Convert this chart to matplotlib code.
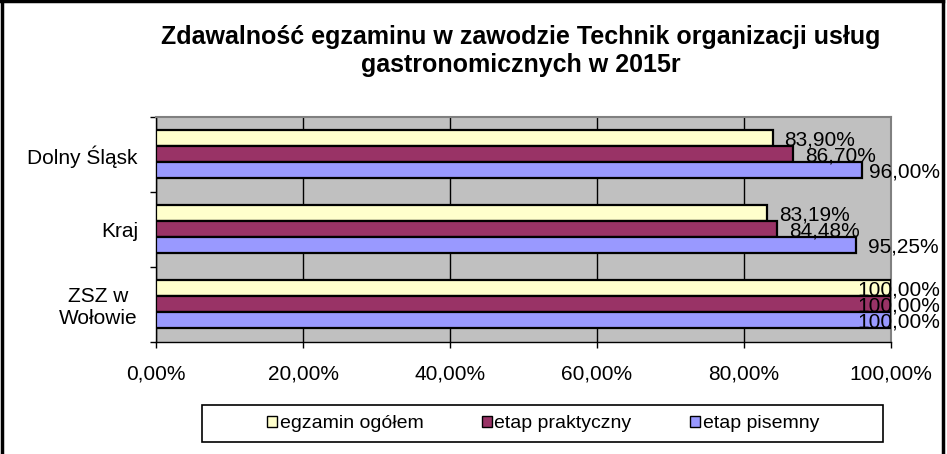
import matplotlib
matplotlib.use("Agg")
import matplotlib.pyplot as plt
from matplotlib.patches import Patch, Rectangle
from matplotlib.lines import Line2D
import numpy as np

plt.rcParams['font.family'] = ['Liberation Sans', 'DejaVu Sans']

# data
categories = ["Dolny Śląsk", "Kraj", "ZSZ w\nWołowie"]
series_names = ["egzamin ogółem", "etap praktyczny", "etap pisemny"]
egzamin_ogolem = [83.90, 83.19, 100.00]
etap_praktyczny = [86.70, 84.48, 100.00]
etap_pisemny = [96.00, 95.25, 100.00]
x_ticks = [0, 20, 40, 60, 80, 100]
x_tick_labels = ["0,00%", "20,00%", "40,00%", "60,00%", "80,00%", "100,00%"]
title = "Zdawalność egzaminu w zawodzie Technik organizacji usług\ngastronomicznych w 2015r"

colors = ["#FFFFCC", "#993366", "#9999FF"]
W, H = 947, 454

fig = plt.figure(figsize=(W / 100, H / 100), dpi=100)
fig.patch.set_facecolor("white")

# chart area border: left, top and right only
for xs, ys in [([1.5 / W, 1.5 / W], [0, 1]),
               ([0, 943 / W], [1 - 1 / H, 1 - 1 / H]),
               ([942.5 / W, 942.5 / W], [0, 1])]:
    fig.lines.append(Line2D(xs, ys, transform=fig.transFigure,
                            color="black", linewidth=2.5))

# plot area in pixels: x 156..891, y 117..342
ax = fig.add_axes([156 / W, 1 - 342 / H, 735 / W, 225 / H])
ax.set_facecolor("#C0C0C0")

n = len(categories)
ypos = np.arange(n)[::-1].astype(float)  # first category on top
bar_h = 0.215
offsets = [bar_h, 0.0, -bar_h]
all_series = [egzamin_ogolem, etap_praktyczny, etap_pisemny]

texts = []
for vals, off, col in zip(all_series, offsets, colors):
    ax.barh(ypos + off + 0.01, vals, height=bar_h, color=col,
            edgecolor="black", linewidth=1.6, zorder=3)
    for y, v in zip(ypos, vals):
        lbl = f"{v:.2f}%".replace(".", ",")
        t = ax.annotate(lbl, xy=(v, y + off + 0.01), xytext=(8.6, -1.5),
                        textcoords="offset points", va="center", ha="left",
                        fontsize=15, color="black", zorder=5,
                        annotation_clip=False)
        texts.append(t)

ax.set_xlim(0, 100)
ax.set_ylim(-0.5, n - 0.5)
ax.set_xticks(x_ticks)
ax.set_xticklabels(x_tick_labels, fontsize=15)
ax.set_yticks(ypos)
ax.set_yticklabels(categories, fontsize=15, multialignment="center")
ax.set_yticks(np.arange(-0.5, n, 1.0), minor=True)
ax.tick_params(axis="y", which="major", length=0, pad=13)
ax.tick_params(axis="y", which="minor", length=4, width=1, color="black")
ax.tick_params(axis="x", length=4, width=1, pad=12)
ax.xaxis.grid(True, color="black", linewidth=1)
ax.set_axisbelow(True)
for s in ["top", "right"]:
    ax.spines[s].set_color("#808080")
    ax.spines[s].set_linewidth(1.5)
for s in ["left", "bottom"]:
    ax.spines[s].set_color("black")
    ax.spines[s].set_linewidth(1)

fig.text(521 / W, 1 - 51 / H, title, ha="center", va="center",
         fontsize=18, fontweight="bold", linespacing=1.2)

# legend with its own frame
fig.patches.append(Rectangle((202 / W, 1 - 442 / H), 681 / W, 37 / H,
                             transform=fig.transFigure, facecolor="white",
                             edgecolor="black", linewidth=1.2))
handles = [Patch(facecolor=c, edgecolor="black", linewidth=1) for c in colors]
fig.legend(handles, series_names, loc="center", ncol=3, frameon=False,
           bbox_to_anchor=(543 / W, 1 - 423.5 / H), fontsize=14,
           handlelength=0.5, handleheight=0.5, handletextpad=0.15,
           columnspacing=3.0)

# keep labels inside the chart area like Excel does
fig.canvas.draw()
for t in texts:
    bb = t.get_window_extent()
    if bb.x1 > 940:
        x, y = t.xyann
        t.xyann = (x - (bb.x1 - 940) * 72 / 100, y)

fig.savefig("out.png", dpi=100, facecolor=fig.get_facecolor())
